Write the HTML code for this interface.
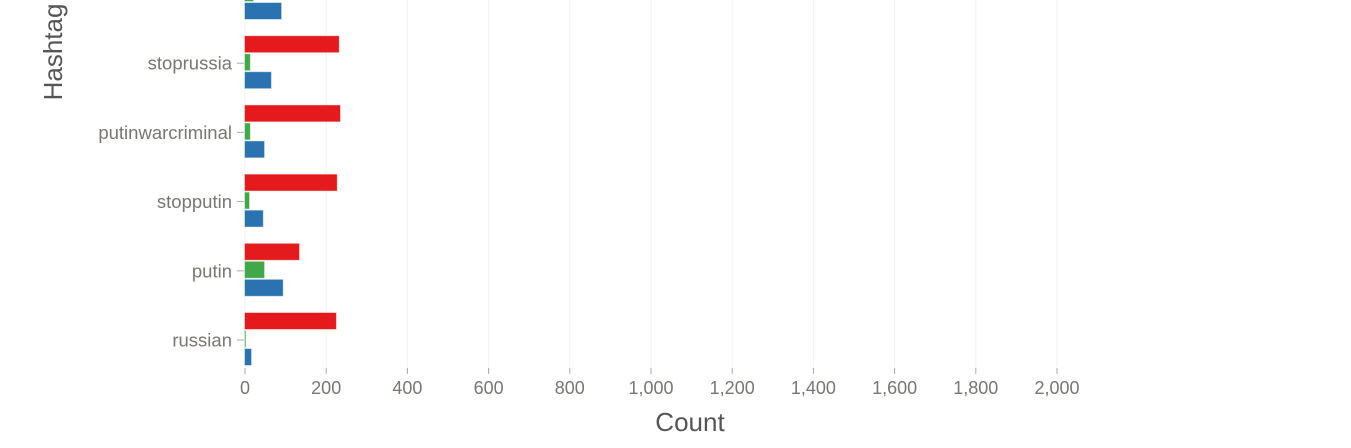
<!DOCTYPE html>
<html><head><meta charset="utf-8"><style>
html,body{margin:0;padding:0;background:#fff;width:1351px;height:448px;overflow:hidden}
svg{font-family:"Liberation Sans",Helvetica,Arial,sans-serif}
</style></head><body>
<svg id="chart" width="1351" height="448"></svg>
<script>
const categories = ["standwithukraine","stoprussia","putinwarcriminal","stopputin","putin","russian"];
const redValues = [230,231,234,226,133,224];
const greenValues = [20,12,12,10,47,1];
const blueValues = [89,64,47,44,93,15];
const xTicks = [0,200,400,600,800,1000,1200,1400,1600,1800,2000];
const xTickLabels = ["0","200","400","600","800","1,000","1,200","1,400","1,600","1,800","2,000"];
const categoryLabels = ["standwithukraine","stoprussia","putinwarcriminal","stopputin","putin","russian"];

const NS="http://www.w3.org/2000/svg";
const svg=document.getElementById('chart');
const x0=245, pxPerUnit=(1057-245)/2000;
const xScale=v=>x0+v*pxPerUnit;
const step=69.2, lastCenter=340;
const yCenter=i=>lastCenter-(categories.length-1-i)*step;
const plotBottom=367;
function mk(tag,attrs,parent){const e=document.createElementNS(NS,tag);for(const k in attrs)e.setAttribute(k,attrs[k]);(parent||svg).appendChild(e);return e;}

xTicks.forEach((t,i)=>{
  const gx=xScale(t);
  const g=mk('line',{x1:gx,x2:gx,y1:0,y2:plotBottom,stroke:'#f2f2f2','stroke-width':1});
  
  
  const tk=mk('line',{x1:gx,x2:gx,y1:368,y2:374,stroke:'#aaa','stroke-width':1});
  
  
  const lb=mk('text',{x:gx,y:394,'text-anchor':'middle','font-size':18,fill:'#7a7672'});
  lb.textContent=xTickLabels[i];
  
  
});

const series=[[redValues,'#e41a1c',-27],[greenValues,'#40a848',-9],[blueValues,'#2b73b0',9]];
categories.forEach((c,i)=>{
  const cy=yCenter(i);
  series.forEach(([vals,col,off],si)=>{
    const r=mk('rect',{x:x0,y:cy+off,width:Math.max(0,xScale(vals[i])-x0),height:16,fill:col,stroke:col,'stroke-opacity':0.5,'stroke-width':1});
    
    
  });
  const tk=mk('line',{x1:237,x2:244,y1:cy,y2:cy,stroke:'#aaa','stroke-width':1});
  
  
  if(categoryLabels[i]){
    const lb=mk('text',{x:232,y:cy+(i===0?3.5:6.5),'text-anchor':'end','font-size':18.5,fill:'#7a7672'});
    lb.textContent=categoryLabels[i];
    
    
  }
});

const xt=mk('text',{x:690,y:431,'text-anchor':'middle','font-size':26,fill:'#555'});
xt.textContent='Count';


const yt=mk('text',{x:0,y:0,'text-anchor':'middle','font-size':26,fill:'#555',transform:'translate(62,52) rotate(-90)'});
yt.textContent='Hashtag';


</script>
</body></html>
